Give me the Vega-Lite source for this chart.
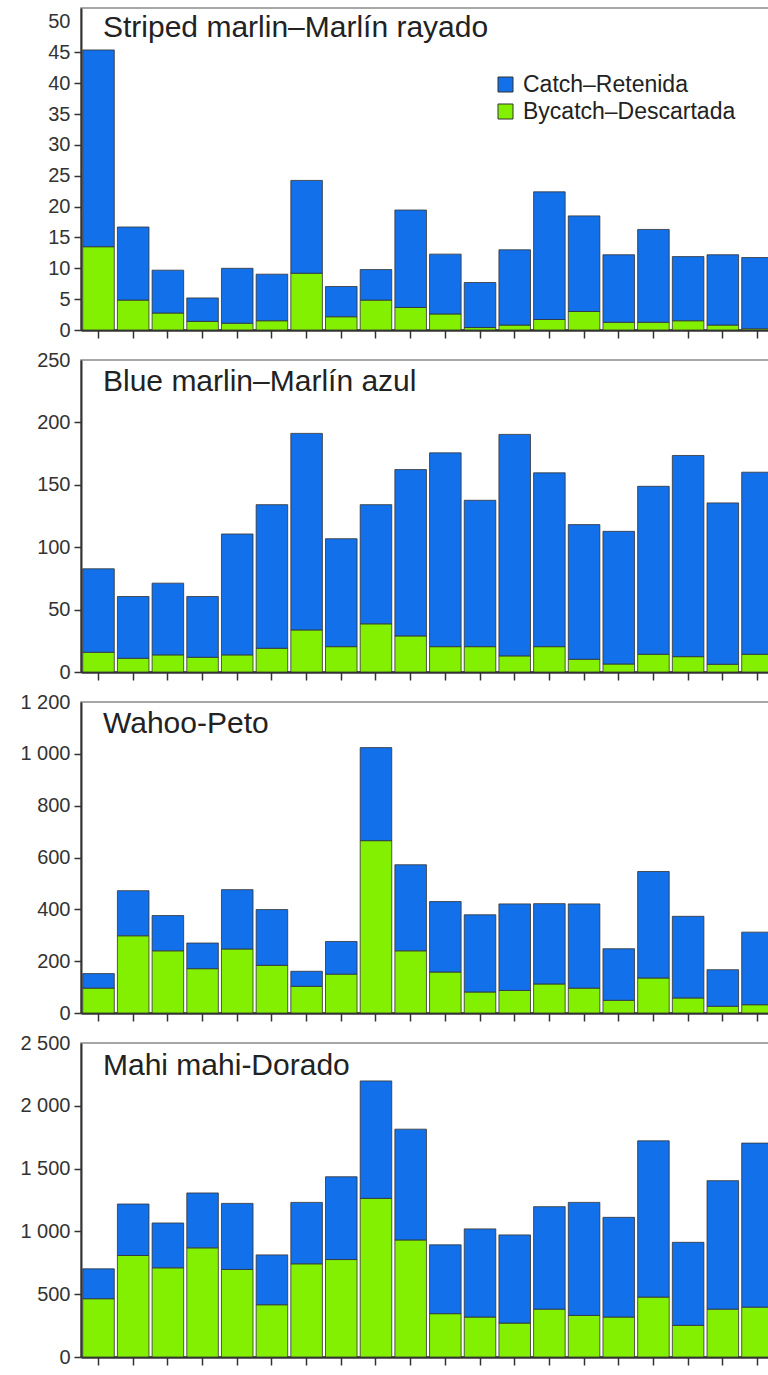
{
"$schema": "https://vega.github.io/schema/vega-lite/v6.json",
"background": "white",
"padding": {"left": 19, "top": 7, "right": -3, "bottom": -20},
"bounds": "flush",
"spacing": 30,
"config": {
  "font": "Liberation Sans",
  "view": {"stroke": "#8a8a8a", "strokeWidth": 1.5},
  "axis": {"labelFont": "Liberation Sans", "labelFontSize": 20, "labelColor": "#333", "tickColor": "#333", "domainColor": "#333", "grid": false},
  "axisY": {"tickSize": 7, "labelPadding": 4, "domainWidth": 2, "tickWidth": 1.5},
  "axisX": {"tickSize": 8, "labelPadding": 8, "domainWidth": 2.5, "tickWidth": 1.5, "labelAngle": 0},
  "title": {"anchor": "start", "frame": "group", "orient": "top", "baseline": "top", "offset": 0, "dx": 22, "fontSize": 30, "fontWeight": "normal", "color": "#222", "font": "Liberation Sans"}
},
"resolve": {"scale": {"x": "independent", "y": "independent", "color": "independent"}, "legend": {"color": "independent"}},
"datasets": {"d": [
{"s":"SM","y":1993,"t":"Bycatch–Descartada","v":13.5},{"s":"SM","y":1993,"t":"Catch–Retenida","v":31.9},
{"s":"SM","y":1994,"t":"Bycatch–Descartada","v":4.85},{"s":"SM","y":1994,"t":"Catch–Retenida","v":11.85},
{"s":"SM","y":1995,"t":"Bycatch–Descartada","v":2.75},{"s":"SM","y":1995,"t":"Catch–Retenida","v":6.95},
{"s":"SM","y":1996,"t":"Bycatch–Descartada","v":1.4},{"s":"SM","y":1996,"t":"Catch–Retenida","v":3.8},
{"s":"SM","y":1997,"t":"Bycatch–Descartada","v":1.1},{"s":"SM","y":1997,"t":"Catch–Retenida","v":8.9},
{"s":"SM","y":1998,"t":"Bycatch–Descartada","v":1.5},{"s":"SM","y":1998,"t":"Catch–Retenida","v":7.55},
{"s":"SM","y":1999,"t":"Bycatch–Descartada","v":9.2},{"s":"SM","y":1999,"t":"Catch–Retenida","v":15.05},
{"s":"SM","y":2000,"t":"Bycatch–Descartada","v":2.15},{"s":"SM","y":2000,"t":"Catch–Retenida","v":4.9},
{"s":"SM","y":2001,"t":"Bycatch–Descartada","v":4.85},{"s":"SM","y":2001,"t":"Catch–Retenida","v":4.95},
{"s":"SM","y":2002,"t":"Bycatch–Descartada","v":3.65},{"s":"SM","y":2002,"t":"Catch–Retenida","v":15.8},
{"s":"SM","y":2003,"t":"Bycatch–Descartada","v":2.6},{"s":"SM","y":2003,"t":"Catch–Retenida","v":9.7},
{"s":"SM","y":2004,"t":"Bycatch–Descartada","v":0.4},{"s":"SM","y":2004,"t":"Catch–Retenida","v":7.3},
{"s":"SM","y":2005,"t":"Bycatch–Descartada","v":0.8},{"s":"SM","y":2005,"t":"Catch–Retenida","v":12.2},
{"s":"SM","y":2006,"t":"Bycatch–Descartada","v":1.7},{"s":"SM","y":2006,"t":"Catch–Retenida","v":20.7},
{"s":"SM","y":2007,"t":"Bycatch–Descartada","v":3.0},{"s":"SM","y":2007,"t":"Catch–Retenida","v":15.5},
{"s":"SM","y":2008,"t":"Bycatch–Descartada","v":1.25},{"s":"SM","y":2008,"t":"Catch–Retenida","v":10.95},
{"s":"SM","y":2009,"t":"Bycatch–Descartada","v":1.25},{"s":"SM","y":2009,"t":"Catch–Retenida","v":15.05},
{"s":"SM","y":2010,"t":"Bycatch–Descartada","v":1.5},{"s":"SM","y":2010,"t":"Catch–Retenida","v":10.4},
{"s":"SM","y":2011,"t":"Bycatch–Descartada","v":0.8},{"s":"SM","y":2011,"t":"Catch–Retenida","v":11.4},
{"s":"SM","y":2012,"t":"Bycatch–Descartada","v":0.2},{"s":"SM","y":2012,"t":"Catch–Retenida","v":11.55},
{"s":"BM","y":1993,"t":"Bycatch–Descartada","v":15.8},{"s":"BM","y":1993,"t":"Catch–Retenida","v":66.9},
{"s":"BM","y":1994,"t":"Bycatch–Descartada","v":11},{"s":"BM","y":1994,"t":"Catch–Retenida","v":49.5},
{"s":"BM","y":1995,"t":"Bycatch–Descartada","v":13.7},{"s":"BM","y":1995,"t":"Catch–Retenida","v":57.5},
{"s":"BM","y":1996,"t":"Bycatch–Descartada","v":11.8},{"s":"BM","y":1996,"t":"Catch–Retenida","v":48.7},
{"s":"BM","y":1997,"t":"Bycatch–Descartada","v":13.7},{"s":"BM","y":1997,"t":"Catch–Retenida","v":96.9},
{"s":"BM","y":1998,"t":"Bycatch–Descartada","v":19},{"s":"BM","y":1998,"t":"Catch–Retenida","v":115.1},
{"s":"BM","y":1999,"t":"Bycatch–Descartada","v":33.7},{"s":"BM","y":1999,"t":"Catch–Retenida","v":157.5},
{"s":"BM","y":2000,"t":"Bycatch–Descartada","v":20.3},{"s":"BM","y":2000,"t":"Catch–Retenida","v":86.5},
{"s":"BM","y":2001,"t":"Bycatch–Descartada","v":38.6},{"s":"BM","y":2001,"t":"Catch–Retenida","v":95.5},
{"s":"BM","y":2002,"t":"Bycatch–Descartada","v":28.9},{"s":"BM","y":2002,"t":"Catch–Retenida","v":133.3},
{"s":"BM","y":2003,"t":"Bycatch–Descartada","v":20.3},{"s":"BM","y":2003,"t":"Catch–Retenida","v":155.3},
{"s":"BM","y":2004,"t":"Bycatch–Descartada","v":20.3},{"s":"BM","y":2004,"t":"Catch–Retenida","v":117.3},
{"s":"BM","y":2005,"t":"Bycatch–Descartada","v":12.9},{"s":"BM","y":2005,"t":"Catch–Retenida","v":177.5},
{"s":"BM","y":2006,"t":"Bycatch–Descartada","v":20.3},{"s":"BM","y":2006,"t":"Catch–Retenida","v":139.3},
{"s":"BM","y":2007,"t":"Bycatch–Descartada","v":10.2},{"s":"BM","y":2007,"t":"Catch–Retenida","v":107.9},
{"s":"BM","y":2008,"t":"Bycatch–Descartada","v":6.4},{"s":"BM","y":2008,"t":"Catch–Retenida","v":106.3},
{"s":"BM","y":2009,"t":"Bycatch–Descartada","v":14.2},{"s":"BM","y":2009,"t":"Catch–Retenida","v":134.6},
{"s":"BM","y":2010,"t":"Bycatch–Descartada","v":12.3},{"s":"BM","y":2010,"t":"Catch–Retenida","v":161.2},
{"s":"BM","y":2011,"t":"Bycatch–Descartada","v":6.2},{"s":"BM","y":2011,"t":"Catch–Retenida","v":129.3},
{"s":"BM","y":2012,"t":"Bycatch–Descartada","v":14.2},{"s":"BM","y":2012,"t":"Catch–Retenida","v":145.9},
{"s":"WA","y":1993,"t":"Bycatch–Descartada","v":96},{"s":"WA","y":1993,"t":"Catch–Retenida","v":56},
{"s":"WA","y":1994,"t":"Bycatch–Descartada","v":298},{"s":"WA","y":1994,"t":"Catch–Retenida","v":174},
{"s":"WA","y":1995,"t":"Bycatch–Descartada","v":240},{"s":"WA","y":1995,"t":"Catch–Retenida","v":136},
{"s":"WA","y":1996,"t":"Bycatch–Descartada","v":171},{"s":"WA","y":1996,"t":"Catch–Retenida","v":99},
{"s":"WA","y":1997,"t":"Bycatch–Descartada","v":247},{"s":"WA","y":1997,"t":"Catch–Retenida","v":229},
{"s":"WA","y":1998,"t":"Bycatch–Descartada","v":184},{"s":"WA","y":1998,"t":"Catch–Retenida","v":215},
{"s":"WA","y":1999,"t":"Bycatch–Descartada","v":103},{"s":"WA","y":1999,"t":"Catch–Retenida","v":58},
{"s":"WA","y":2000,"t":"Bycatch–Descartada","v":150},{"s":"WA","y":2000,"t":"Catch–Retenida","v":126},
{"s":"WA","y":2001,"t":"Bycatch–Descartada","v":665},{"s":"WA","y":2001,"t":"Catch–Retenida","v":359},
{"s":"WA","y":2002,"t":"Bycatch–Descartada","v":240},{"s":"WA","y":2002,"t":"Catch–Retenida","v":332},
{"s":"WA","y":2003,"t":"Bycatch–Descartada","v":158},{"s":"WA","y":2003,"t":"Catch–Retenida","v":272},
{"s":"WA","y":2004,"t":"Bycatch–Descartada","v":81},{"s":"WA","y":2004,"t":"Catch–Retenida","v":298},
{"s":"WA","y":2005,"t":"Bycatch–Descartada","v":87},{"s":"WA","y":2005,"t":"Catch–Retenida","v":334},
{"s":"WA","y":2006,"t":"Bycatch–Descartada","v":112},{"s":"WA","y":2006,"t":"Catch–Retenida","v":310},
{"s":"WA","y":2007,"t":"Bycatch–Descartada","v":96},{"s":"WA","y":2007,"t":"Catch–Retenida","v":325},
{"s":"WA","y":2008,"t":"Bycatch–Descartada","v":49},{"s":"WA","y":2008,"t":"Catch–Retenida","v":199},
{"s":"WA","y":2009,"t":"Bycatch–Descartada","v":135},{"s":"WA","y":2009,"t":"Catch–Retenida","v":411},
{"s":"WA","y":2010,"t":"Bycatch–Descartada","v":58},{"s":"WA","y":2010,"t":"Catch–Retenida","v":315},
{"s":"WA","y":2011,"t":"Bycatch–Descartada","v":26},{"s":"WA","y":2011,"t":"Catch–Retenida","v":141},
{"s":"WA","y":2012,"t":"Bycatch–Descartada","v":32},{"s":"WA","y":2012,"t":"Catch–Retenida","v":280},
{"s":"MM","y":1993,"t":"Bycatch–Descartada","v":464},{"s":"MM","y":1993,"t":"Catch–Retenida","v":238},
{"s":"MM","y":1994,"t":"Bycatch–Descartada","v":808},{"s":"MM","y":1994,"t":"Catch–Retenida","v":410},
{"s":"MM","y":1995,"t":"Bycatch–Descartada","v":710},{"s":"MM","y":1995,"t":"Catch–Retenida","v":357},
{"s":"MM","y":1996,"t":"Bycatch–Descartada","v":869},{"s":"MM","y":1996,"t":"Catch–Retenida","v":437},
{"s":"MM","y":1997,"t":"Bycatch–Descartada","v":697},{"s":"MM","y":1997,"t":"Catch–Retenida","v":526},
{"s":"MM","y":1998,"t":"Bycatch–Descartada","v":416},{"s":"MM","y":1998,"t":"Catch–Retenida","v":397},
{"s":"MM","y":1999,"t":"Bycatch–Descartada","v":742},{"s":"MM","y":1999,"t":"Catch–Retenida","v":489},
{"s":"MM","y":2000,"t":"Bycatch–Descartada","v":776},{"s":"MM","y":2000,"t":"Catch–Retenida","v":659},
{"s":"MM","y":2001,"t":"Bycatch–Descartada","v":1263},{"s":"MM","y":2001,"t":"Catch–Retenida","v":935},
{"s":"MM","y":2002,"t":"Bycatch–Descartada","v":932},{"s":"MM","y":2002,"t":"Catch–Retenida","v":882},
{"s":"MM","y":2003,"t":"Bycatch–Descartada","v":345},{"s":"MM","y":2003,"t":"Catch–Retenida","v":548},
{"s":"MM","y":2004,"t":"Bycatch–Descartada","v":318},{"s":"MM","y":2004,"t":"Catch–Retenida","v":702},
{"s":"MM","y":2005,"t":"Bycatch–Descartada","v":270},{"s":"MM","y":2005,"t":"Catch–Retenida","v":702},
{"s":"MM","y":2006,"t":"Bycatch–Descartada","v":381},{"s":"MM","y":2006,"t":"Catch–Retenida","v":816},
{"s":"MM","y":2007,"t":"Bycatch–Descartada","v":331},{"s":"MM","y":2007,"t":"Catch–Retenida","v":900},
{"s":"MM","y":2008,"t":"Bycatch–Descartada","v":318},{"s":"MM","y":2008,"t":"Catch–Retenida","v":794},
{"s":"MM","y":2009,"t":"Bycatch–Descartada","v":477},{"s":"MM","y":2009,"t":"Catch–Retenida","v":1244},
{"s":"MM","y":2010,"t":"Bycatch–Descartada","v":252},{"s":"MM","y":2010,"t":"Catch–Retenida","v":661},
{"s":"MM","y":2011,"t":"Bycatch–Descartada","v":381},{"s":"MM","y":2011,"t":"Catch–Retenida","v":1023},
{"s":"MM","y":2012,"t":"Bycatch–Descartada","v":397},{"s":"MM","y":2012,"t":"Catch–Retenida","v":1306}
]},
"vconcat": [
{
  "title": {"text": "Striped marlin–Marlín rayado", "dy": 39},
  "width": 690, "height": 322,
  "data": {"name": "d"},
  "transform": [{"filter": "datum.s == 'SM'"}],
  "mark": {"type": "bar", "clip": true, "stroke": "#333", "strokeWidth": 1, "strokeOpacity": 0.8},
  "encoding": {
    "x": {"field": "y", "type": "ordinal", "scale": {"range": [0, 694], "paddingInner": 0.09, "paddingOuter": 0.05}, "axis": {"labels": false, "title": null}},
    "y": {"field": "v", "type": "quantitative", "stack": "zero", "scale": {"domain": [0, 52.2], "nice": false}, "axis": {"title": null, "values": [0,5,10,15,20,25,30,35,40,45,50], "labelExpr": "replace(format(datum.value, ','), ',', ' ')", "tickOpacity": {"condition": {"test": "datum.value == 50", "value": 0}, "value": 1}}},
    "color": {"field": "t", "type": "nominal", "scale": {"domain": ["Catch–Retenida", "Bycatch–Descartada"], "range": ["#1270EA", "#82F000"]},
      "legend": {"orient": "none", "legendX": 413, "legendY": 65, "title": null, "symbolType": "square", "symbolSize": 225, "symbolStrokeColor": "#333", "symbolStrokeWidth": 1, "symbolOpacity": 1, "labelFont": "Liberation Sans", "labelFontSize": 23, "labelColor": "#222", "labelOffset": 6, "labelLimit": 0, "rowPadding": 3, "padding": 0}},
    "order": {"field": "t", "sort": "ascending"}
  }
},
{
  "title": {"text": "Blue marlin–Marlín azul", "dy": 51},
  "width": 690, "height": 312,
  "data": {"name": "d"},
  "transform": [{"filter": "datum.s == 'BM'"}],
  "mark": {"type": "bar", "clip": true, "stroke": "#333", "strokeWidth": 1, "strokeOpacity": 0.8},
  "encoding": {
    "x": {"field": "y", "type": "ordinal", "scale": {"range": [0, 694], "paddingInner": 0.09, "paddingOuter": 0.05}, "axis": {"labels": false, "title": null}},
    "y": {"field": "v", "type": "quantitative", "stack": "zero", "scale": {"domain": [0, 250], "nice": false}, "axis": {"title": null, "values": [0,50,100,150,200,250], "labelExpr": "replace(format(datum.value, ','), ',', ' ')", "tickOpacity": {"condition": {"test": "datum.value == 250", "value": 0}, "value": 1}}},
    "color": {"field": "t", "type": "nominal", "scale": {"domain": ["Catch–Retenida", "Bycatch–Descartada"], "range": ["#1270EA", "#82F000"]}, "legend": null},
    "order": {"field": "t", "sort": "ascending"}
  }
},
{
  "title": {"text": "Wahoo-Peto", "dy": 51},
  "width": 690, "height": 311,
  "data": {"name": "d"},
  "transform": [{"filter": "datum.s == 'WA'"}],
  "mark": {"type": "bar", "clip": true, "stroke": "#333", "strokeWidth": 1, "strokeOpacity": 0.8},
  "encoding": {
    "x": {"field": "y", "type": "ordinal", "scale": {"range": [0, 694], "paddingInner": 0.09, "paddingOuter": 0.05}, "axis": {"labels": false, "title": null}},
    "y": {"field": "v", "type": "quantitative", "stack": "zero", "scale": {"domain": [0, 1200], "nice": false}, "axis": {"title": null, "values": [0,200,400,600,800,1000,1200], "labelExpr": "replace(format(datum.value, ','), ',', ' ')", "tickOpacity": {"condition": {"test": "datum.value == 1200", "value": 0}, "value": 1}}},
    "color": {"field": "t", "type": "nominal", "scale": {"domain": ["Catch–Retenida", "Bycatch–Descartada"], "range": ["#1270EA", "#82F000"]}, "legend": null},
    "order": {"field": "t", "sort": "ascending"}
  }
},
{
  "title": {"text": "Mahi mahi-Dorado", "dy": 52},
  "width": 690, "height": 314,
  "data": {"name": "d"},
  "transform": [{"filter": "datum.s == 'MM'"}],
  "mark": {"type": "bar", "clip": true, "stroke": "#333", "strokeWidth": 1, "strokeOpacity": 0.8},
  "encoding": {
    "x": {"field": "y", "type": "ordinal", "scale": {"range": [0, 694], "paddingInner": 0.09, "paddingOuter": 0.05}, "axis": {"title": null, "labelExpr": "datum.value % 5 == 0 ? datum.value : ''"}},
    "y": {"field": "v", "type": "quantitative", "stack": "zero", "scale": {"domain": [0, 2500], "nice": false}, "axis": {"title": null, "values": [0,500,1000,1500,2000,2500], "labelExpr": "replace(format(datum.value, ','), ',', ' ')", "tickOpacity": {"condition": {"test": "datum.value == 2500", "value": 0}, "value": 1}}},
    "color": {"field": "t", "type": "nominal", "scale": {"domain": ["Catch–Retenida", "Bycatch–Descartada"], "range": ["#1270EA", "#82F000"]}, "legend": null},
    "order": {"field": "t", "sort": "ascending"}
  }
}
]
}
